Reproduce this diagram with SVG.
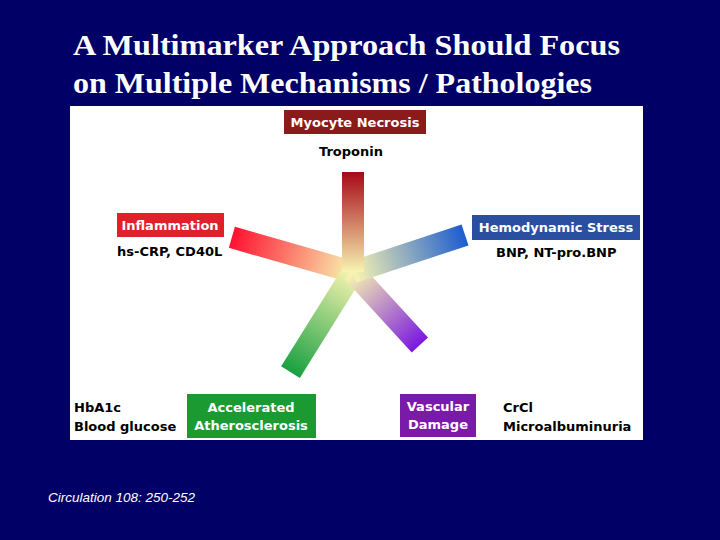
<svg xmlns="http://www.w3.org/2000/svg" width="720" height="540" viewBox="0 0 720 540">
<style>
.t{font-family:"Liberation Serif",serif;font-weight:bold;font-size:29px;fill:#fff}
.b{font-family:"DejaVu Sans","Liberation Sans",sans-serif;font-weight:bold;font-size:13px;fill:#fff}
.k{font-family:"DejaVu Sans","Liberation Sans",sans-serif;font-weight:bold;font-size:13px;fill:#000}
</style>
<defs>
<linearGradient id="gr" x1="0" y1="1" x2="0" y2="0"><stop offset="0" stop-color="#f8f4b0"/><stop offset="1" stop-color="#a80818"/></linearGradient>
<linearGradient id="gb" x1="0" y1="1" x2="0" y2="0"><stop offset="0" stop-color="#f8f4b0"/><stop offset="1" stop-color="#1c5cd0"/></linearGradient>
<linearGradient id="gp" x1="0" y1="1" x2="0" y2="0"><stop offset="0" stop-color="#f8f4b0"/><stop offset="1" stop-color="#7a18e0"/></linearGradient>
<linearGradient id="gg" x1="0" y1="1" x2="0" y2="0"><stop offset="0" stop-color="#f8f4b0"/><stop offset="1" stop-color="#18a040"/></linearGradient>
<linearGradient id="go" x1="0" y1="1" x2="0" y2="0"><stop offset="0" stop-color="#f8f4b0"/><stop offset="1" stop-color="#ff1030"/></linearGradient>
</defs>
<rect width="720" height="540" fill="#000066"/>
<text class="t" x="73" y="55" textLength="547" lengthAdjust="spacingAndGlyphs">A Multimarker Approach Should Focus</text>
<text class="t" x="73" y="93" textLength="519" lengthAdjust="spacingAndGlyphs">on Multiple Mechanisms / Pathologies</text>
<rect x="70" y="106" width="573" height="334" fill="#fff"/>
<g id="star" transform="translate(353,272)">
<rect x="-11" y="-126" width="22" height="126" fill="url(#go)" transform="rotate(286)"/>
<rect x="-11" y="-118" width="22" height="118" fill="url(#gg)" transform="rotate(212)"/>
<rect x="-11" y="-99" width="22" height="99" fill="url(#gp)" transform="rotate(137.5)"/>
<rect x="-11" y="-118" width="22" height="118" fill="url(#gb)" transform="rotate(71.7)"/>
<rect x="-11" y="-100" width="22" height="100" fill="url(#gr)"/>
</g>
<g id="myocyte"><rect x="284" y="110" width="142" height="24" fill="#8b1a1a"/><text class="b" x="355" y="127" text-anchor="middle">Myocyte Necrosis</text><text class="k" x="351" y="156" text-anchor="middle">Troponin</text></g>
<g id="inflammation"><rect x="117" y="213" width="107" height="24" fill="#e0202a"/><text class="b" x="170" y="230" text-anchor="middle">Inflammation</text><text class="k" x="117" y="256">hs-CRP, CD40L</text></g>
<g id="hemodynamic"><rect x="472" y="215" width="168" height="25" fill="#2a4fa0"/><text class="b" x="556" y="232" text-anchor="middle">Hemodynamic Stress</text><text class="k" x="496" y="257">BNP, NT-pro.BNP</text></g>
<g id="athero"><rect x="187" y="394" width="129" height="44" fill="#1a9a30"/><text class="b" x="251" y="412" text-anchor="middle">Accelerated</text><text class="b" x="251" y="430" text-anchor="middle">Atherosclerosis</text><text class="k" x="74" y="412">HbA1c</text><text class="k" x="74" y="431">Blood glucose</text></g>
<g id="vascular"><rect x="400" y="394" width="76" height="43" fill="#7a1aa8"/><text class="b" x="438" y="411" text-anchor="middle">Vascular</text><text class="b" x="438" y="429" text-anchor="middle">Damage</text><text class="k" x="503" y="412">CrCl</text><text class="k" x="503" y="431">Microalbuminuria</text></g>
<g id="connectors"/>
<text x="48" y="502" font-family="Liberation Sans,sans-serif" font-style="italic" font-size="13.5" fill="#fff">Circulation 108: 250-252</text>
</svg>
